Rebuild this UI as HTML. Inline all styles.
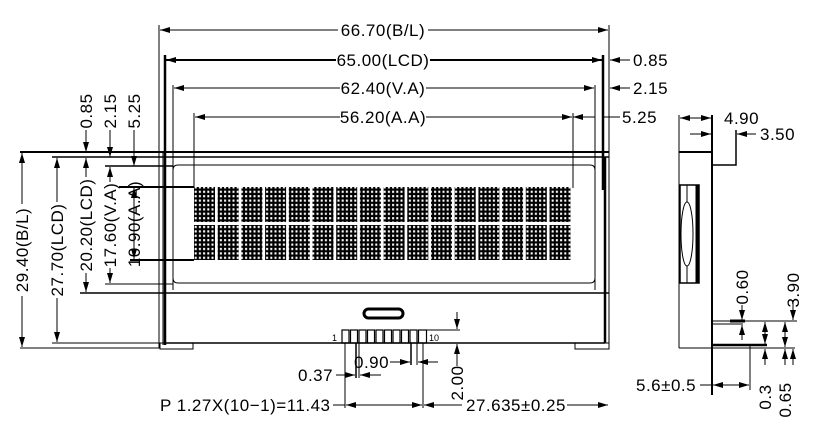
<!DOCTYPE html>
<html><head><meta charset="utf-8"><style>
html,body{margin:0;padding:0;background:#fff}
svg{display:block}
text{font-family:"Liberation Sans",sans-serif;font-size:17px;letter-spacing:0.5px;fill:#000}
</style></head><body>
<svg width="817" height="440" viewBox="0 0 817 440" xmlns="http://www.w3.org/2000/svg">
<defs>
<marker id="a" viewBox="0 0 10 6" refX="10" refY="3" markerWidth="10" markerHeight="6" orient="auto-start-reverse" markerUnits="userSpaceOnUse"><path d="M0,0L10,3L0,6z" fill="#000"/></marker>
<pattern id="ch" width="4.2" height="4.4" patternUnits="userSpaceOnUse"><rect width="4.2" height="4.4" fill="#000"/><rect x="1.5" y="1.5" width="2" height="2.2" fill="#fff"/></pattern>
</defs>
<g stroke="#000" fill="none" stroke-width="1">
<line x1="159" y1="25" x2="159" y2="348"/><line x1="609" y1="25" x2="609" y2="348"/>
<line x1="160" y1="30" x2="608" y2="30" marker-start="url(#a)" marker-end="url(#a)"/>
<line x1="165" y1="55" x2="165" y2="345" stroke-width="2.5"/><line x1="603" y1="55" x2="603" y2="190" stroke-width="2.5"/>
<line x1="166" y1="60" x2="602" y2="60" stroke-width="2" marker-start="url(#a)" marker-end="url(#a)"/>
<line x1="173" y1="85" x2="173" y2="290"/><line x1="595" y1="85" x2="595" y2="290"/>
<line x1="174" y1="88" x2="594" y2="88" marker-start="url(#a)" marker-end="url(#a)"/>
<line x1="194" y1="113" x2="194" y2="188"/><line x1="573" y1="113" x2="573" y2="188"/>
<line x1="195" y1="117" x2="572" y2="117" marker-start="url(#a)" marker-end="url(#a)"/>
<line x1="595" y1="117" x2="573" y2="117" marker-end="url(#a)"/><line x1="603" y1="117" x2="620" y2="117"/>
<line x1="630" y1="60" x2="610" y2="60" marker-end="url(#a)"/>
<line x1="630" y1="88" x2="610" y2="88" marker-end="url(#a)"/>
<line x1="20" y1="152" x2="609" y2="152" stroke-width="2"/>
<line x1="52" y1="157" x2="609" y2="157" stroke-width="1.5"/>
<line x1="105" y1="166" x2="173" y2="166" stroke-width="1.5"/>
<path d="M173,170 Q173,165 178,165 L590,165 Q595,165 595,170 L595,278 Q595,283 590,283 L178,283 Q173,283 173,278 Z"/>
<line x1="105" y1="284" x2="173" y2="284"/>
<line x1="80" y1="293" x2="609" y2="293" stroke-width="1.5"/>
<line x1="105" y1="187" x2="194" y2="187" stroke-width="2"/>
<line x1="130" y1="260" x2="194" y2="260" stroke-width="2"/>
<line x1="163" y1="152" x2="163" y2="345"/>
<line x1="605" y1="157" x2="605" y2="343" stroke-width="2.5"/>
<line x1="165" y1="343" x2="605" y2="343" stroke-width="1.5"/>
<rect x="160" y="343" width="33" height="6"/><rect x="575" y="343" width="34" height="6"/>
<line x1="20" y1="348" x2="160" y2="348"/><line x1="52" y1="343" x2="160" y2="343"/>
<line x1="22" y1="153" x2="22" y2="347" marker-start="url(#a)" marker-end="url(#a)"/>
<line x1="57" y1="158" x2="57" y2="342" marker-start="url(#a)" marker-end="url(#a)"/>
<line x1="86" y1="158" x2="86" y2="292" marker-start="url(#a)" marker-end="url(#a)"/>
<line x1="110" y1="167" x2="110" y2="283" marker-start="url(#a)" marker-end="url(#a)"/>
<line x1="134" y1="188" x2="134" y2="259" marker-start="url(#a)" marker-end="url(#a)"/>
<line x1="86" y1="130" x2="86" y2="152" marker-end="url(#a)"/>
<line x1="110" y1="130" x2="110" y2="157" marker-end="url(#a)"/>
<line x1="134" y1="130" x2="134" y2="166" marker-end="url(#a)"/>
<rect x="364" y="309" width="39" height="9" rx="4.5" stroke-width="3"/>
<g stroke-width="1.2">
<rect x="342" y="330" width="7" height="13"/><rect x="350.5" y="330" width="7" height="13"/><rect x="359" y="330" width="7" height="13"/><rect x="367.5" y="330" width="7" height="13"/><rect x="376" y="330" width="7" height="13"/><rect x="384.5" y="330" width="7" height="13"/><rect x="393" y="330" width="7" height="13"/><rect x="401.5" y="330" width="7" height="13"/><rect x="410" y="330" width="7" height="13"/><rect x="418.5" y="330" width="8" height="13"/>
</g>
<line x1="427" y1="330" x2="460" y2="330"/>
<line x1="457" y1="312" x2="457" y2="329" marker-end="url(#a)"/>
<line x1="457" y1="366" x2="457" y2="344" marker-end="url(#a)"/>
<line x1="345" y1="343" x2="345" y2="408"/><line x1="423" y1="343" x2="423" y2="408"/>
<line x1="346" y1="405" x2="422" y2="405" marker-start="url(#a)" marker-end="url(#a)"/>
<line x1="424" y1="405" x2="462" y2="405" marker-start="url(#a)"/>
<line x1="567" y1="405" x2="608" y2="405" marker-end="url(#a)"/>
<line x1="333" y1="405" x2="345" y2="405"/>
<line x1="356" y1="343" x2="356" y2="378" stroke-width="1.5"/><line x1="359" y1="343" x2="359" y2="378"/>
<line x1="336" y1="375" x2="355" y2="375" marker-end="url(#a)"/><line x1="381" y1="375" x2="360" y2="375" marker-end="url(#a)"/>
<line x1="411" y1="343" x2="411" y2="365" stroke-width="1.5"/><line x1="417" y1="343" x2="417" y2="365"/>
<line x1="390" y1="362" x2="410" y2="362" marker-end="url(#a)"/><line x1="438" y1="362" x2="418" y2="362" marker-end="url(#a)"/>
<line x1="679" y1="115" x2="679" y2="348"/>
<line x1="712" y1="115" x2="712" y2="395" stroke-width="2"/>
<line x1="679" y1="152" x2="712" y2="152" stroke-width="2"/>
<path d="M712,165 L736,165 L736,130" stroke-width="1.5"/>
<line x1="680" y1="118" x2="711" y2="118" marker-start="url(#a)" marker-end="url(#a)"/>
<line x1="690" y1="134" x2="711" y2="134" marker-end="url(#a)"/>
<line x1="756" y1="134" x2="737" y2="134" marker-end="url(#a)"/>
<rect x="680" y="185" width="19" height="98" stroke-width="1.5"/>
<line x1="697" y1="185" x2="697" y2="283" stroke-width="3"/>
<ellipse cx="687" cy="234" rx="6" ry="32"/>
<line x1="687" y1="185" x2="687" y2="202"/><line x1="687" y1="266" x2="687" y2="283"/>
<line x1="679" y1="348" x2="795" y2="348"/>
<line x1="712" y1="321" x2="797" y2="321"/>
<line x1="712" y1="345" x2="767" y2="345" stroke-width="2.5"/>
<line x1="730" y1="321" x2="745" y2="321" stroke-width="3"/>
<line x1="712" y1="324" x2="743" y2="324"/>
<line x1="750" y1="345" x2="750" y2="390"/>
<line x1="700" y1="385" x2="711" y2="385"/>
<line x1="713" y1="385" x2="749" y2="385" marker-start="url(#a)" marker-end="url(#a)"/>
<line x1="742" y1="305" x2="742" y2="320" marker-end="url(#a)"/>
<line x1="742" y1="340" x2="742" y2="325" marker-end="url(#a)"/>
<line x1="765" y1="322" x2="765" y2="344" marker-start="url(#a)" marker-end="url(#a)"/>
<line x1="765" y1="365" x2="765" y2="349" marker-end="url(#a)"/>
<line x1="785" y1="322" x2="785" y2="347" marker-start="url(#a)" marker-end="url(#a)"/>
<line x1="785" y1="365" x2="785" y2="349" marker-end="url(#a)"/>
<line x1="793" y1="300" x2="793" y2="320" marker-end="url(#a)"/>
<line x1="793" y1="365" x2="793" y2="349" marker-end="url(#a)"/>
</g>
<g fill="url(#ch)">
<rect x="194" y="187" width="21" height="35"/><rect x="217.7" y="187" width="21" height="35"/><rect x="241.4" y="187" width="21" height="35"/><rect x="265.1" y="187" width="21" height="35"/><rect x="288.8" y="187" width="21" height="35"/><rect x="312.5" y="187" width="21" height="35"/><rect x="336.2" y="187" width="21" height="35"/><rect x="359.9" y="187" width="21" height="35"/><rect x="383.6" y="187" width="21" height="35"/><rect x="407.3" y="187" width="21" height="35"/><rect x="431" y="187" width="21" height="35"/><rect x="454.7" y="187" width="21" height="35"/><rect x="478.4" y="187" width="21" height="35"/><rect x="502.1" y="187" width="21" height="35"/><rect x="525.8" y="187" width="21" height="35"/><rect x="549.5" y="187" width="21" height="35"/>
<rect x="194" y="225" width="21" height="35"/><rect x="217.7" y="225" width="21" height="35"/><rect x="241.4" y="225" width="21" height="35"/><rect x="265.1" y="225" width="21" height="35"/><rect x="288.8" y="225" width="21" height="35"/><rect x="312.5" y="225" width="21" height="35"/><rect x="336.2" y="225" width="21" height="35"/><rect x="359.9" y="225" width="21" height="35"/><rect x="383.6" y="225" width="21" height="35"/><rect x="407.3" y="225" width="21" height="35"/><rect x="431" y="225" width="21" height="35"/><rect x="454.7" y="225" width="21" height="35"/><rect x="478.4" y="225" width="21" height="35"/><rect x="502.1" y="225" width="21" height="35"/><rect x="525.8" y="225" width="21" height="35"/><rect x="549.5" y="225" width="21" height="35"/>
</g>
<g text-anchor="middle">
<rect x="338" y="21" width="90" height="18" fill="#fff"/><text x="383" y="36">66.70(B/L)</text>
<rect x="336" y="51" width="94" height="18" fill="#fff"/><text x="383" y="66">65.00(LCD)</text>
<rect x="340" y="79" width="86" height="18" fill="#fff"/><text x="383" y="94">62.40(V.A)</text>
<rect x="340" y="108" width="86" height="18" fill="#fff"/><text x="383" y="123">56.20(A.A)</text>
</g>
<text x="633" y="66">0.85</text>
<text x="633" y="94">2.15</text>
<text x="622" y="123">5.25</text>
<g text-anchor="middle">
<rect x="13" y="204" width="18" height="92" fill="#fff"/><text transform="translate(28,250) rotate(-90)">29.40(B/L)</text>
<rect x="48" y="202" width="18" height="96" fill="#fff"/><text transform="translate(63,250) rotate(-90)">27.70(LCD)</text>
<rect x="77" y="177" width="18" height="96" fill="#fff"/><text transform="translate(92,225) rotate(-90)">20.20(LCD)</text>
<rect x="101" y="182" width="18" height="86" fill="#fff"/><text transform="translate(116,225) rotate(-90)">17.60(V.A)</text>
<text transform="translate(140,224) rotate(-90)">10.90(A.A)</text>
<text transform="translate(92,111) rotate(-90)">0.85</text>
<text transform="translate(116,111) rotate(-90)">2.15</text>
<text transform="translate(140,111) rotate(-90)">5.25</text>
<text transform="translate(463,383) rotate(-90)">2.00</text>
<text transform="translate(748,287) rotate(-90)">0.60</text>
<text transform="translate(799,290) rotate(-90)">3.90</text>
<text transform="translate(771,397) rotate(-90)">0.3</text>
<text transform="translate(791,400) rotate(-90)">0.65</text>
</g>
<text x="160" y="411">P  1.27X(10−1)=11.43</text>
<text x="466" y="411">27.635±0.25</text>
<text x="298" y="381">0.37</text>
<text x="354" y="368">0.90</text>
<text x="332" y="341" style="font-size:9px;letter-spacing:0">1</text>
<text x="429" y="341" style="font-size:9px;letter-spacing:0">10</text>
<text x="724" y="124">4.90</text>
<text x="760" y="140">3.50</text>
<text x="636" y="391">5.6±0.5</text>
</svg>
</body></html>
